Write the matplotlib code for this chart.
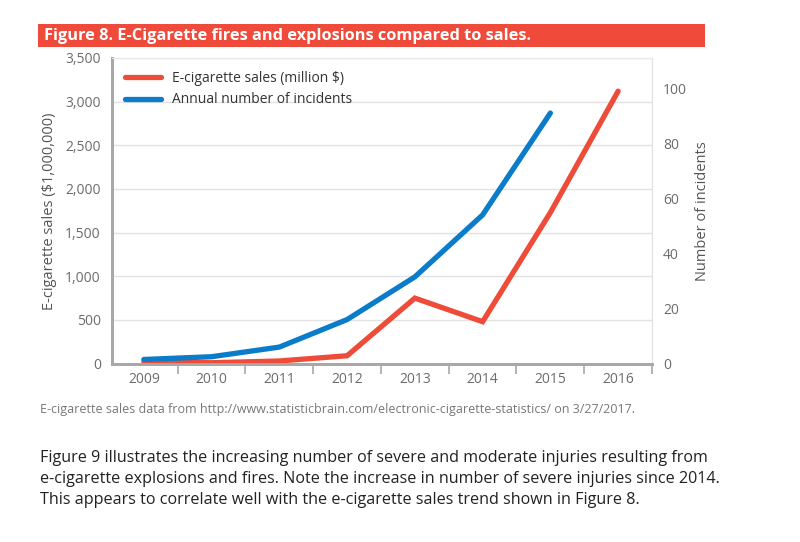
"""E-cigarette fires and explosions compared to sales (Figure 8)."""
import matplotlib.pyplot as plt
import numpy as np
from matplotlib.patches import Rectangle

years = ["2009", "2010", "2011", "2012", "2013", "2014", "2015", "2016"]
sales_musd = [20, 10, 30, 90, 750, 480, 1730, 3120]
incidents = [1.5, 2.5, 6, 16, 31.5, 54, 91]

RED = "#EE4B38"
BLUE = "#0A7CC9"
GRAY_TXT = "#6b6b6b"

plt.rcParams["font.family"] = ["Open Sans", "DejaVu Sans"]

fig = plt.figure(figsize=(8, 5.42), dpi=100)
W, H = 800, 542

# red title banner
fig.patches.append(Rectangle((38 / W, 1 - 47 / H), (705 - 38) / W, 23 / H,
                             transform=fig.transFigure, facecolor="#EF4A3A",
                             edgecolor="none"))
fig.text(44 / W, 1 - 35.5 / H, "Figure 8. E-Cigarette fires and explosions compared to sales.",
         color="white", fontsize=11.75, fontweight="bold", va="center", ha="left")

ax = fig.add_axes([112 / W, 1 - 363.6 / H, (652 - 112) / W, (363.6 - 58) / H])
ax2 = ax.twinx()

x = np.arange(len(years))
ax.plot(x, sales_musd, color=RED, lw=3.8, solid_capstyle="round",
        solid_joinstyle="miter", label="E-cigarette sales (million $)", zorder=3)
ax2.plot(x[:len(incidents)], incidents, color=BLUE, lw=3.8, solid_capstyle="round",
         label="Annual number of incidents", zorder=3)

ax.set_xlim(-0.47, 7.5)
ax.set_ylim(0, 3500)
ax2.set_ylim(0, 111)

ax.set_yticks(np.arange(0, 3501, 500))
ax.set_yticklabels([f"{v:,}" for v in range(0, 3501, 500)])
ax2.set_yticks(np.arange(0, 101, 20))

ax.set_xticks(x)
ax.set_xticklabels(years)
ax.set_xticks(np.arange(-0.5, 7.6, 1.0)[1:], minor=True)
ax.tick_params(axis="x", which="major", length=0, pad=6, labelsize=10, labelcolor=GRAY_TXT)
ax.tick_params(axis="x", which="minor", length=7, width=1.2, color="#a8a8a8")
ax.tick_params(axis="y", length=0, pad=8, labelsize=10, labelcolor=GRAY_TXT)
ax2.tick_params(axis="y", length=0, pad=8, labelsize=10, labelcolor=GRAY_TXT)

ax.grid(axis="y", color="#e2e2e2", lw=1)
ax.set_axisbelow(True)

for a in (ax, ax2):
    a.spines["top"].set_color("#e8e8e8")
    a.spines["right"].set_color("#e2e2e2")
    a.spines["left"].set_color("#a8a8a8")
    a.spines["left"].set_linewidth(2)
    a.spines["bottom"].set_color("#a8a8a8")
    a.spines["bottom"].set_linewidth(2)

ax.set_ylabel("E-cigarette sales ($1,000,000)", fontsize=10.5, color="#555555", labelpad=6)
ax2.set_ylabel("Number of incidents", fontsize=10.5, color="#555555", labelpad=6)

h1, l1 = ax.get_legend_handles_labels()
h2, l2 = ax2.get_legend_handles_labels()
ax2.legend(h1 + h2, l1 + l2, loc="upper left", bbox_to_anchor=(0.0, 1.0),
           frameon=False, fontsize=10, handlelength=2.6, labelspacing=0.5,
           labelcolor="#333333")

fig.text(40 / W, 1 - 410 / H,
         "E-cigarette sales data from http://www.statisticbrain.com/electronic-cigarette-statistics/ on 3/27/2017.",
         fontsize=9, color="#777777", va="center", ha="left")

para = ("Figure 9 illustrates the increasing number of severe and moderate injuries resulting from\n"
        "e-cigarette explosions and fires. Note the increase in number of severe injuries since 2014.\n"
        "This appears to correlate well with the e-cigarette sales trend shown in Figure 8.")
fig.text(40 / W, 1 - 450 / H, para, fontsize=11.6, color="#222222", va="top", ha="left",
         linespacing=1.42)

fig.savefig("out.png", dpi=100, facecolor="white")
